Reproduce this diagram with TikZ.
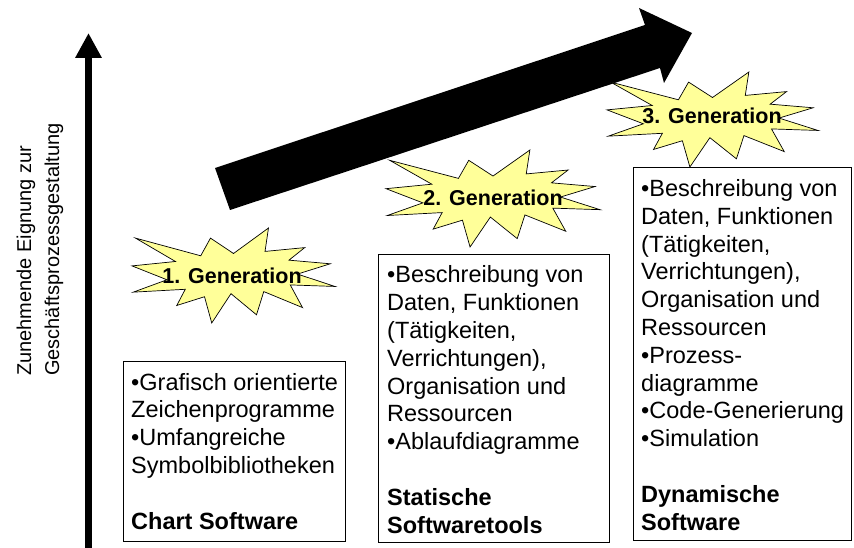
\documentclass[tikz,border=0pt]{standalone}
\usepackage{fontspec}
\setmainfont{Liberation Sans}
\usetikzlibrary{arrows.meta}
\definecolor{starfill}{HTML}{FFFF99}
\tikzset{
  boxframe/.style={draw=black, line width=0.9pt},
  boxtext/.style={anchor=base west, align=left, inner sep=0pt, font=\fontsize{23.5}{27.8}\selectfont},
  startext/.style={inner sep=0pt, font=\fontsize{21.5}{24}\selectfont\bfseries},
  seal/.style={fill=starfill, draw=black, line width=0.7pt, line join=miter},
  sealpic/.pic={
    \draw[seal] (0.5,0.2685) -- (0.6723,0) -- (0.6553,0.2465) -- (0.8509,0.2064)
      -- (0.7732,0.3386) -- (0.9767,0.3767) -- (0.8151,0.4850) -- (1.0,0.6153)
      -- (0.7795,0.5992) -- (0.8400,0.8377) -- (0.6491,0.6693) -- (0.6133,0.9137)
      -- (0.4876,0.6914) -- (0.3928,1.0) -- (0.3572,0.7234) -- (0.2205,0.8156)
      -- (0.2624,0.6452) -- (0.00625,0.6753) -- (0.1723,0.5451) -- (0,0.3988)
      -- (0.2142,0.3526) -- (0.0171,0.1063) -- (0.3385,0.2926) -- (0.3867,0.1063)
      -- cycle;
  }
}
\begin{document}
\begin{tikzpicture}[x=1pt,y=-1pt]
\useasboundingbox (0,0) rectangle (854,548);

% vertical axis
\coordinate (ybot) at (88.5,548);
\coordinate (ytop) at (88.5,33);
\draw[line width=7pt, -{Triangle[width=25pt,length=25pt]}] (ybot) -- (ytop);
\node[rotate=90, anchor=base west, align=left, inner sep=0pt,
      font=\fontsize{20}{28}\selectfont] (axislabel) at (59,376)
  {Zunehmende Eignung zur\\Geschäftsprozessgestaltung};

% big arrow
\fill[black] (215,168) -- (645,25) -- (639,8) -- (692,33) -- (664,83)
  -- (660,68) -- (230,210) -- cycle;

% stars
\pic[shift={(132,228)}, xscale=203, yscale=95] {sealpic};
\pic[shift={(386,150)}, xscale=214, yscale=97] {sealpic};
\pic[shift={(607,72)}, xscale=211, yscale=95] {sealpic};
\node[startext] (gen1) at (232,276) {1. Generation};
\node[startext] (gen2) at (493,198) {2. Generation};
\node[startext] (gen3) at (712,116) {3. Generation};

% boxes
\draw[boxframe] (123,361) rectangle (345,541);
\draw[boxframe] (378,254) rectangle (609,542);
\draw[boxframe] (633,167) rectangle (851,540);

\node[boxtext] (txt1) at (131,529)
  {•Grafisch orientierte\\Zeichenprogramme\\•Umfangreiche\\Symbolbibliotheken\\[27.8pt]\textbf{Chart Software}};
\node[boxtext] (txt2) at (387,533)
  {•Beschreibung von\\Daten, Funktionen\\(Tätigkeiten,\\Verrichtungen),\\Organisation und\\Ressourcen\\•Ablaufdiagramme\\[27.8pt]\textbf{Statische}\\\textbf{Softwaretools}};
\node[boxtext] (txt3) at (641,530)
  {•Beschreibung von\\Daten, Funktionen\\(Tätigkeiten,\\Verrichtungen),\\Organisation und\\Ressourcen\\•Prozess-\\diagramme\\•Code-Generierung\\•Simulation\\[27.8pt]\textbf{Dynamische}\\\textbf{Software}};
\end{tikzpicture}
\end{document}
